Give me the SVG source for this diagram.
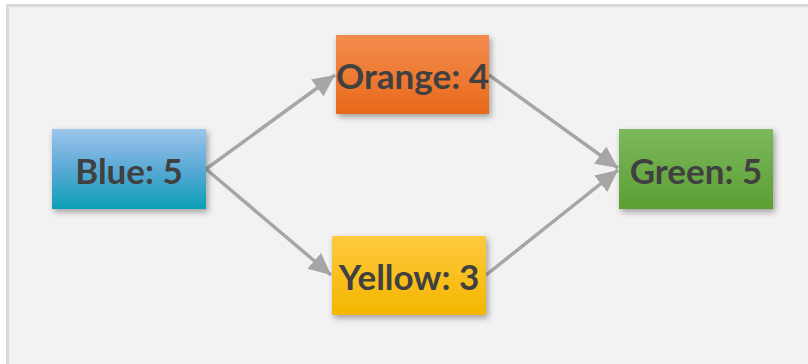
<svg xmlns="http://www.w3.org/2000/svg" width="808" height="364" viewBox="0 0 808 364">
<style>
.lbl{font-family:Lato,"Open Sans","Liberation Sans",sans-serif;font-weight:bold;font-size:35px;fill:#404040;text-anchor:middle;dominant-baseline:central}
.con{stroke:#a6a6a6;stroke-width:3.5;fill:none}
</style>
<defs>
<linearGradient id="gBlue" x1="0" y1="0" x2="0" y2="1"><stop offset="0" stop-color="#9cc4ea"/><stop offset="0.5" stop-color="#5aa9d6"/><stop offset="1" stop-color="#0aa0b6"/></linearGradient>
<linearGradient id="gOrange" x1="0" y1="0" x2="0" y2="1"><stop offset="0" stop-color="#f38c4f"/><stop offset="1" stop-color="#e8691a"/></linearGradient>
<linearGradient id="gYellow" x1="0" y1="0" x2="0" y2="1"><stop offset="0" stop-color="#ffc93f"/><stop offset="1" stop-color="#f3b700"/></linearGradient>
<linearGradient id="gGreen" x1="0" y1="0" x2="0" y2="1"><stop offset="0" stop-color="#7bb95b"/><stop offset="1" stop-color="#5d9e33"/></linearGradient>
<filter id="sh" x="-20%" y="-20%" width="140%" height="150%"><feDropShadow dx="2" dy="3" stdDeviation="3" flood-color="#000" flood-opacity="0.35"/></filter>
<marker id="arr" markerUnits="userSpaceOnUse" markerWidth="26" markerHeight="26" viewBox="0 0 26 26" refX="22" refY="13" orient="auto"><path d="M0,2.5 L22,13 L0,23.5 Z" fill="#a6a6a6"/></marker>
</defs>
<rect x="0" y="0" width="808" height="364" fill="#ffffff"/>
<rect x="7.5" y="5.5" width="820" height="380" fill="#f2f2f2" stroke="#d9d9d9" stroke-width="3"/>
<g id="connectors">
<line class="con" x1="206" y1="169" x2="335" y2="75" marker-end="url(#arr)"/>
<line class="con" x1="206" y1="169" x2="331" y2="275" marker-end="url(#arr)"/>
<line class="con" x1="489" y1="75" x2="618" y2="168" marker-end="url(#arr)"/>
<line class="con" x1="486" y1="275" x2="618" y2="170" marker-end="url(#arr)"/>
</g>
<g id="blue"><rect x="52" y="129" width="154" height="80" fill="url(#gBlue)" filter="url(#sh)"/><text class="lbl" x="129" y="170">Blue: 5</text></g>
<g id="orange"><rect x="336" y="35" width="153" height="79" fill="url(#gOrange)" filter="url(#sh)"/><text class="lbl" x="412.5" y="75">Orange: 4</text></g>
<g id="yellow"><rect x="332" y="236" width="154" height="79" fill="url(#gYellow)" filter="url(#sh)"/><text class="lbl" x="409" y="276">Yellow: 3</text></g>
<g id="green"><rect x="619" y="129" width="154" height="80" fill="url(#gGreen)" filter="url(#sh)"/><text class="lbl" x="696" y="170">Green: 5</text></g>
</svg>
